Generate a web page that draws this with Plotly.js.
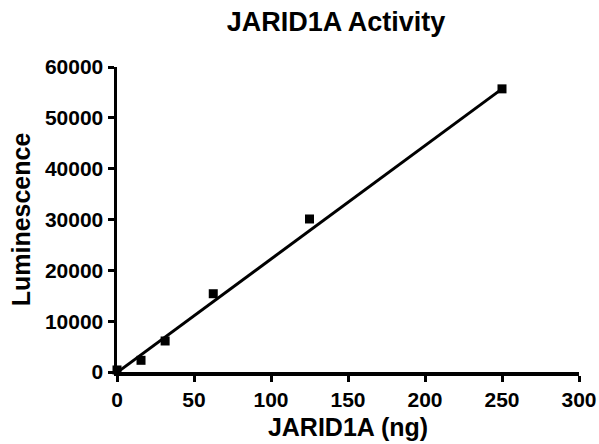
<!DOCTYPE html>
<html>
<head>
<meta charset="utf-8">
<script src="https://cdn.plot.ly/plotly-3.0.1.min.js"></script>
<style>html,body{margin:0;padding:0;background:#fff;}#chart{width:599px;height:444px;}</style>
</head>
<body>
<div id="chart"></div>
<script>
const amountNg = [0, 15.6, 31.25, 62.5, 125, 250];
const luminescence = [400, 2300, 6100, 15400, 30100, 55700];
// Fitted line endpoints
const fitX = [0, 250];
const fitY = [-100, 55700];
const xTicks = [0, 50, 100, 150, 200, 250, 300];
const yTicks = [0, 10000, 20000, 30000, 40000, 50000, 60000];

const FONT = 'Liberation Sans, Arial, Helvetica, sans-serif';

const traces = [
  {
    x: fitX, y: fitY, type: 'scatter', mode: 'lines',
    line: {color: '#000', width: 3}, hoverinfo: 'skip', cliponaxis: false
  },
  {
    x: amountNg, y: luminescence, type: 'scatter', mode: 'markers',
    marker: {symbol: 'square', size: 9, color: '#000'}, cliponaxis: false
  }
];

const layout = {
  width: 599, height: 444,
  margin: {l: 117, r: 20, t: 67, b: 72},
  paper_bgcolor: '#fff', plot_bgcolor: '#fff',
  showlegend: false,
  font: {family: FONT, color: '#000'},
  title: {
    text: '<b>JARID1A Activity</b>',
    font: {family: FONT, size: 27, color: '#000'},
    xref: 'container', x: 0.561, xanchor: 'center',
    yref: 'container', y: 0.951, yanchor: 'middle'
  },
  xaxis: {
    range: [0, 300], tickvals: xTicks, ticktext: xTicks.map(String),
    showgrid: false, zeroline: false,
    showline: true, linecolor: '#000', linewidth: 3.5,
    ticks: 'outside', ticklen: 6, tickwidth: 3, tickcolor: '#000',
    tickfont: {family: FONT, size: 21, color: '#000', weight: 'bold'},
    title: {text: '<b>JARID1A (ng)</b>', font: {family: FONT, size: 25, color: '#000'}, standoff: 10}
  },
  yaxis: {
    range: [0, 60000], tickvals: yTicks, ticktext: yTicks.map(String),
    showgrid: false, zeroline: false,
    showline: true, linecolor: '#000', linewidth: 3.5,
    ticks: 'outside', ticklen: 6, tickwidth: 3, tickcolor: '#000',
    tickfont: {family: FONT, size: 21, color: '#000', weight: 'bold'},
    title: {text: '<b>Luminescence</b>', font: {family: FONT, size: 25, color: '#000'}, standoff: 8}
  }
};

Plotly.newPlot('chart', traces, layout, {displayModeBar: false, staticPlot: true});
</script>
</body>
</html>
